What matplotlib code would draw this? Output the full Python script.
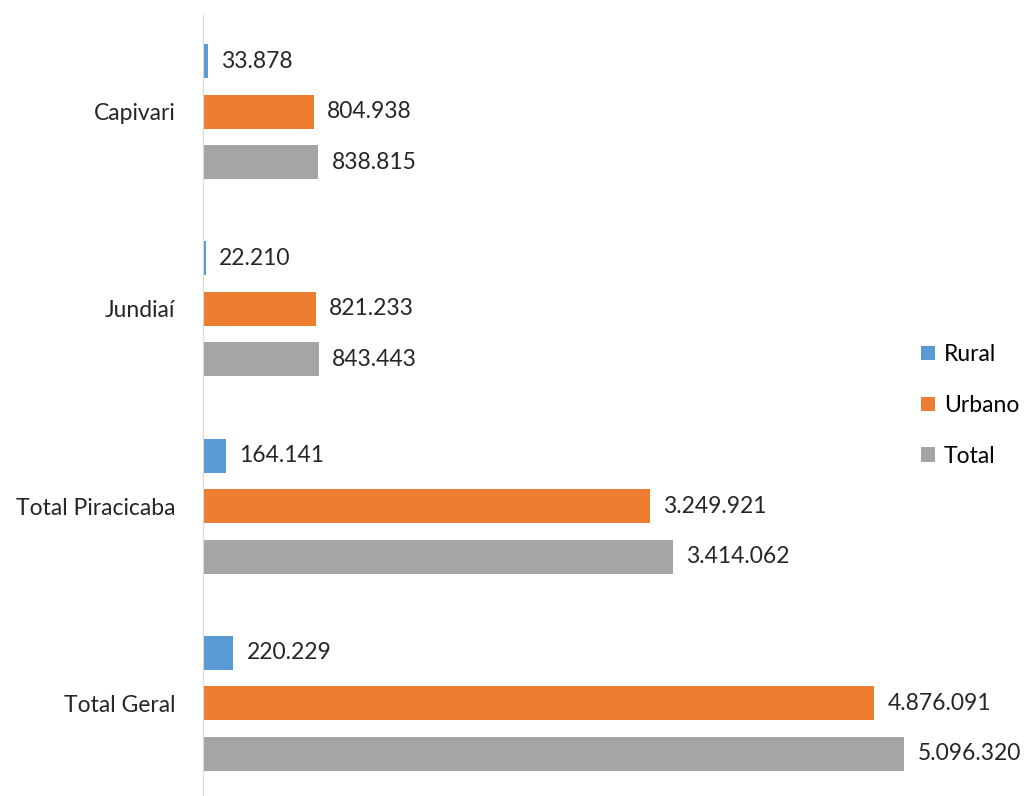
import numpy as np
import matplotlib
matplotlib.use('Agg')
import matplotlib.pyplot as plt

categories = ['Capivari', 'Jundiaí', 'Total Piracicaba', 'Total Geral']
rural = [33878, 22210, 164141, 220229]
urbano = [804938, 821233, 3249921, 4876091]
total = [838815, 843443, 3414062, 5096320]
series_names = ['Rural', 'Urbano', 'Total']
colors = ['#5B9BD5', '#ED7D31', '#A5A5A5']

FONT_SIZE = 16.5


def fmt(v):
    return f'{v:,}'.replace(',', '.')


plt.rcParams['font.family'] = ['Lato', 'DejaVu Sans']
fig = plt.figure(figsize=(10.33, 7.96), dpi=100)
ax = fig.add_axes([203 / 1033, 0, 830 / 1033, 781 / 796])

y = np.arange(len(categories))
step = 0.256
height = 0.173
for i, (vals, name, c) in enumerate(zip([rural, urbano, total], series_names, colors)):
    pos = y + (i - 1) * step
    ax.barh(pos, vals, height=height, color=c, label=name)
    for p, v in zip(pos, vals):
        ax.text(v + 95000, p, fmt(v), va='center', ha='left', fontsize=FONT_SIZE, color='#262626')

ax.set_yticks(y)
ax.set_yticklabels(categories, fontsize=FONT_SIZE, color='#262626')
ax.tick_params(axis='y', length=0, pad=20)
ax.set_xticks([])
ax.set_xlim(0, 6.03e6)
ax.set_ylim(3.47, -0.49)
for s in ['top', 'right', 'bottom']:
    ax.spines[s].set_visible(False)
ax.spines['left'].set_color('#D9D9D9')

ax.legend(loc='center left', bbox_to_anchor=(0.84, 0.5), frameon=False, fontsize=FONT_SIZE,
          handlelength=0.6, handleheight=0.6, handletextpad=0.4, labelspacing=1.3)

fig.savefig('out.png', dpi=100)
